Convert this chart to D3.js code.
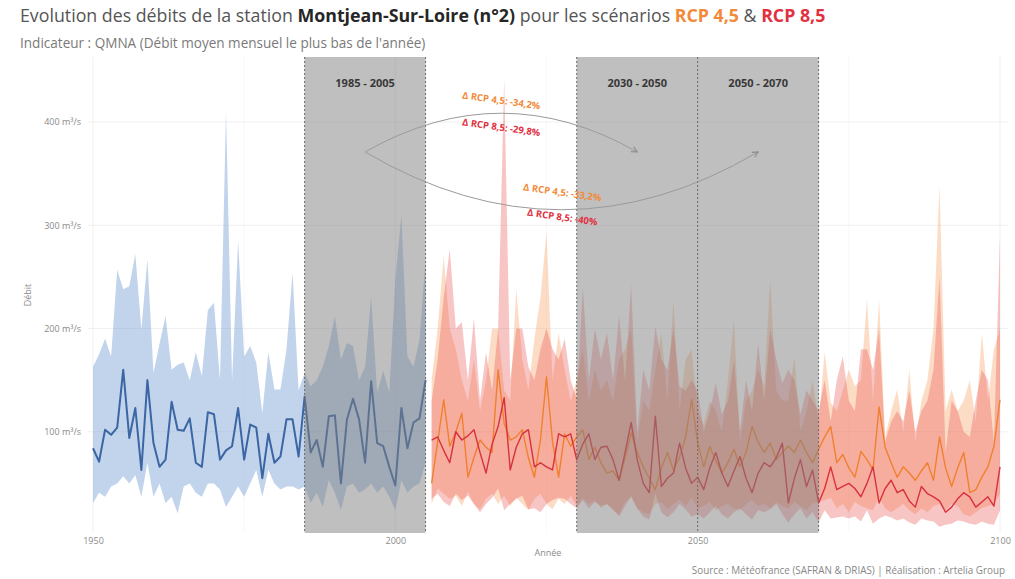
<!DOCTYPE html>
<html><head><meta charset="utf-8">
<script src="https://cdn.jsdelivr.net/npm/d3@7"></script>
<style>
body{margin:0;background:#fff}
svg{display:block}
text{font-family:"Open Sans","DejaVu Sans",sans-serif}
</style>
</head><body>
<svg id="chart" width="1015" height="579"></svg>
<script>
// ---------- DATA ----------
const histStartYear = 1950;   // observed series 1950-2005
const projStartYear = 2006;   // projections 2006-2100

const histMedian = [84,71,102,97,104,160,94,123,63,150,
  89,66,73,129,102,101,113,70,66,119,
  117,73,82,86,123,73,107,104,55,98,
  70,76,112,112,76,134,80,92,66,115,
  116,50,112,132,112,70,149,89,86,66,
  48,123,84,109,113,150];
const histMin = [31,41,37,47,50,57,50,58,37,70,
  37,50,31,37,21,47,50,41,37,50,
  50,44,27,37,47,37,50,63,37,63,
  50,44,47,47,44,47,31,41,27,53,
  41,24,47,50,41,44,50,41,47,37,
  24,53,41,47,50,70];
const histMax = [163,175,190,173,257,238,241,272,199,267,
  157,185,212,160,165,167,150,177,154,218,
  225,150,410,150,285,173,183,167,118,177,
  141,141,180,254,140,157,144,150,163,183,
  212,170,186,183,150,163,231,138,159,138,
  248,310,173,163,189,267];

const rcp45Median = [50,90,131,86,
  100,118,56,75,92,85,80,160,108,92,
  95,102,75,56,92,153,90,56,98,86,
  95,102,73,85,70,60,62,53,75,99,
  80,66,55,44,65,80,63,75,95,131,
  90,66,86,72,60,70,83,66,80,105,
  90,80,89,73,80,86,80,92,80,70,
  83,95,105,70,78,65,56,81,73,63,
  124,85,70,56,66,60,53,62,70,53,
  95,65,47,65,80,41,44,56,66,86,
  131];
const rcp45Min = [30,45,40,35,
  38,28,42,30,25,35,40,30,38,28,
  36,30,24,35,40,30,25,35,30,38,
  28,36,30,34,26,30,24,20,32,36,
  26,22,20,30,32,25,30,34,28,36,
  26,28,32,24,28,30,26,24,30,34,
  28,30,26,32,28,26,32,28,24,30,
  32,34,36,26,30,22,32,28,26,24,
  36,26,22,26,30,24,20,26,22,28,
  30,24,30,28,20,18,22,26,28,30,
  40];
const rcp45Max = [150,200,270,200,
  180,150,130,170,120,150,200,200,140,130,
  238,170,140,190,230,293,150,196,160,130,
  150,180,130,160,140,150,130,170,180,200,
  90,130,120,160,196,130,228,120,170,180,
  120,107,130,120,100,150,209,90,130,140,
  160,144,248,140,130,130,173,100,120,150,
  110,177,128,120,140,160,144,150,228,130,
  228,95,120,141,100,160,90,130,150,200,
  338,120,141,120,130,150,110,196,130,180,
  200];

const rcp85Median = [92,95,82,70,
  100,92,96,102,80,60,88,105,133,63,
  85,98,102,66,70,66,63,98,95,98,
  73,88,98,73,85,86,73,53,80,109,
  73,50,41,115,47,55,60,89,65,50,
  56,44,65,80,60,47,62,76,55,41,
  60,70,66,75,89,31,55,73,47,63,
  31,45,66,44,47,50,45,37,50,66,
  31,45,53,41,44,33,27,47,40,37,
  33,22,27,35,41,37,27,32,37,28,
  66];
const rcp85Min = [35,40,32,28,
  40,34,38,30,22,30,36,45,24,30,
  35,38,25,26,22,30,34,36,35,30,
  26,34,26,32,28,30,25,18,28,38,
  26,18,15,40,22,17,22,30,25,18,
  20,16,22,28,20,16,22,26,20,15,
  24,22,25,30,20,12,20,26,16,22,
  12,24,16,17,18,16,18,13,24,11,
  16,19,17,14,16,12,10,16,14,13,
  8,10,11,14,13,11,10,13,11,10,
  24];
const rcp85Max = [130,170,230,277,
  200,206,150,210,130,177,140,200,442,150,
  200,200,163,150,180,200,180,170,190,150,
  132,240,150,200,170,196,150,212,150,243,
  100,160,140,202,170,160,200,144,140,150,
  140,100,120,147,117,130,170,100,150,120,
  186,130,200,170,147,160,150,117,140,130,
  120,150,110,150,173,130,120,180,180,160,
  200,90,110,120,110,140,100,120,130,160,
  250,80,130,120,100,95,130,160,150,90,
  290];

const periodStarts = [1985, 2030, 2050];
const periodEnds   = [2005, 2050, 2070];
const periodLabels = ["1985 - 2005", "2030 - 2050", "2050 - 2070"];

const xTicks = [1950, 2000, 2050, 2100];
const xMinorTicks = [1975, 2025, 2075];
const yTicks = [100, 200, 300, 400];

// change annotations (data coordinates)
const arcStartYear = 1995;
const arcEndYears = [2040, 2060];
const arcLevel = 371;
const arcBendValues = [446, 259];
const deltaLabels = ["Δ RCP 4,5: -34,2%", "Δ RCP 8,5: -29,8%", "Δ RCP 4,5: -33,2%", "Δ RCP 8,5: -40%"];
const deltaYears = [2017.5, 2017.5, 2027.6, 2027.6];
const deltaValues = [420, 394, 331, 307];
const deltaScenario = ["45", "85", "45", "85"];

// ---------- LAYOUT ----------
const panel = {left: 88, right: 1008, top: 57, bottom: 533};
const svg = d3.select("#chart");

const x = d3.scaleLinear().domain([1950, 2100]).range([93, 1000]);
const y = d3.scaleLinear().domain([0, 400]).range([535, 122]);

const colors = {
  histBand: "#7ba3d6", histLine: "#3b65a3",
  b45: "#f8a466", l45: "#f08030",
  b85: "#ea4a4a", l85: "#d8303c",
  t45: "#f28a3a", t85: "#e2303f"
};

const hist = histMedian.map((m, i) => ({year: histStartYear + i, med: m, lo: histMin[i], hi: histMax[i]}));
const p45 = rcp45Median.map((m, i) => ({year: projStartYear + i, med: m, lo: rcp45Min[i], hi: rcp45Max[i]}));
const p85 = rcp85Median.map((m, i) => ({year: projStartYear + i, med: m, lo: rcp85Min[i], hi: rcp85Max[i]}));

// ---------- GRID ----------
const grid = svg.append("g");
grid.selectAll(".vminor").data(xMinorTicks).join("line")
  .attr("x1", d => x(d)).attr("x2", d => x(d))
  .attr("y1", panel.top).attr("y2", panel.bottom)
  .attr("stroke", "#f4f4f4").attr("stroke-width", 0.6);
grid.selectAll(".vmajor").data(xTicks).join("line")
  .attr("x1", d => x(d)).attr("x2", d => x(d))
  .attr("y1", panel.top).attr("y2", panel.bottom)
  .attr("stroke", "#ececec").attr("stroke-width", 0.8);
grid.selectAll(".hmajor").data(yTicks).join("line")
  .attr("x1", panel.left).attr("x2", panel.right)
  .attr("y1", d => y(d)).attr("y2", d => y(d))
  .attr("stroke", "#ececec").attr("stroke-width", 0.8);

// ---------- BANDS & LINES ----------
const area = d3.area().x(d => x(d.year)).y0(d => y(d.lo)).y1(d => y(d.hi));
const line = d3.line().x(d => x(d.year)).y(d => y(d.med));

svg.append("path").datum(hist).attr("d", area).attr("fill", colors.histBand).attr("fill-opacity", 0.47);
svg.append("path").datum(p45).attr("d", area).attr("fill", colors.b45).attr("fill-opacity", 0.38);
svg.append("path").datum(p85).attr("d", area).attr("fill", colors.b85).attr("fill-opacity", 0.32);

svg.append("path").datum(hist).attr("d", line).attr("fill", "none")
  .attr("stroke", colors.histLine).attr("stroke-width", 2).attr("stroke-linejoin", "round");
svg.append("path").datum(p45).attr("d", line).attr("fill", "none")
  .attr("stroke", colors.l45).attr("stroke-width", 1.4).attr("stroke-linejoin", "round");
svg.append("path").datum(p85).attr("d", line).attr("fill", "none")
  .attr("stroke", colors.l85).attr("stroke-width", 1.4).attr("stroke-linejoin", "round");

// ---------- PERIOD OVERLAYS ----------
const periods = periodStarts.map((s, i) => ({s, e: periodEnds[i], label: periodLabels[i]}));
svg.append("g").selectAll("rect").data(periods).join("rect")
  .attr("x", d => x(d.s)).attr("width", d => x(d.e) - x(d.s))
  .attr("y", panel.top).attr("height", panel.bottom - panel.top)
  .attr("fill", "#7f7f7f").attr("fill-opacity", 0.5);
const edges = Array.from(new Set(periodStarts.concat(periodEnds)));
svg.append("g").selectAll("line").data(edges).join("line")
  .attr("x1", d => x(d)).attr("x2", d => x(d))
  .attr("y1", panel.top).attr("y2", panel.bottom)
  .attr("stroke", "#6a6a6a").attr("stroke-width", 1).attr("stroke-dasharray", "2,2");
svg.append("g").selectAll("text").data(periods).join("text")
  .attr("x", d => (x(d.s) + x(d.e)) / 2).attr("y", 87)
  .attr("text-anchor", "middle").attr("font-size", 11).attr("font-weight", "bold")
  .attr("fill", "#383838").text(d => d.label);

// ---------- ANNOTATIONS ----------
const defs = svg.append("defs");
defs.append("marker").attr("id", "arr").attr("viewBox", "0 0 10 10")
  .attr("refX", 9).attr("refY", 5).attr("markerWidth", 7).attr("markerHeight", 7)
  .attr("orient", "auto-start-reverse").attr("markerUnits", "userSpaceOnUse")
  .append("path").attr("d", "M1,1 L9,5 L1,9").attr("fill", "none")
  .attr("stroke", "#8d8d8d").attr("stroke-width", 1.6);

arcEndYears.forEach((ey, i) => {
  const x0 = x(arcStartYear), y0 = y(arcLevel);
  const x1 = x(ey), y1 = y(arcLevel);
  const cx = (x0 + x1) / 2, cy = y(arcBendValues[i]);
  svg.append("path")
    .attr("d", `M${x0},${y0} Q${cx},${cy} ${x1},${y1}`)
    .attr("fill", "none").attr("stroke", "#9a9a9a").attr("stroke-width", 1)
    .attr("marker-end", "url(#arr)");
});

deltaLabels.forEach((t, i) => {
  const px = x(deltaYears[i]), py = y(deltaValues[i]);
  svg.append("text").attr("x", px).attr("y", py)
    .attr("transform", `rotate(8,${px},${py})`)
    .attr("text-anchor", "middle").attr("dominant-baseline", "middle")
    .attr("font-size", 9.5).attr("font-weight", "bold")
    .attr("fill", deltaScenario[i] === "45" ? colors.t45 : colors.t85)
    .text(t);
});

// ---------- AXES ----------
const axisY = svg.append("g").attr("transform", `translate(84,0)`)
  .call(d3.axisLeft(y).tickValues(yTicks).tickSize(0).tickFormat(d => d + " m³/s"));
axisY.select(".domain").remove();
axisY.selectAll("text").attr("font-size", 9).attr("fill", "#8a8a8a")
  .attr("font-family", '"Open Sans",sans-serif');

const axisX = svg.append("g").attr("transform", `translate(0,535)`)
  .call(d3.axisBottom(x).tickValues(xTicks).tickSize(0).tickFormat(d3.format("d")));
axisX.select(".domain").remove();
axisX.selectAll("text").attr("font-size", 9).attr("fill", "#8a8a8a").attr("dy", "0.7em")
  .attr("font-family", '"Open Sans",sans-serif');

svg.append("text").attr("x", (panel.left + panel.right) / 2).attr("y", 556)
  .attr("text-anchor", "middle").attr("font-size", 9).attr("fill", "#8a8a8a").text("Année");
svg.append("text").attr("transform", `translate(31,${(panel.top + panel.bottom) / 2}) rotate(-90)`)
  .attr("text-anchor", "middle").attr("font-size", 9).attr("fill", "#8a8a8a").text("Débit");

// ---------- TITLES ----------
function fit(sel, targetW) {
  const w = sel.node().getComputedTextLength();
  const fs = parseFloat(sel.attr("font-size"));
  sel.attr("font-size", fs * targetW / w);
}
const title = svg.append("text").attr("x", 20).attr("y", 22).attr("font-size", 15).attr("fill", "#555");
title.append("tspan").text("Evolution des débits de la station ");
title.append("tspan").attr("font-weight", "bold").attr("fill", "#262626").text("Montjean-Sur-Loire (n°2)");
title.append("tspan").text(" pour les scénarios ");
title.append("tspan").attr("font-weight", "bold").attr("fill", colors.t45).text("RCP 4,5");
title.append("tspan").text(" & ");
title.append("tspan").attr("font-weight", "bold").attr("fill", colors.t85).text("RCP 8,5");
fit(title, 806);

const subtitle = svg.append("text").attr("x", 20).attr("y", 48).attr("font-size", 10).attr("fill", "#7a7a7a")
  .text("Indicateur : QMNA (Débit moyen mensuel le plus bas de l'année)");
fit(subtitle, 406);

const caption = svg.append("text").attr("x", 1005).attr("y", 574).attr("font-size", 7.5)
  .attr("text-anchor", "end").attr("fill", "#888")
  .text("Source : Météofrance (SAFRAN & DRIAS) | Réalisation : Artelia Group");
fit(caption, 314);
</script>
</body></html>
